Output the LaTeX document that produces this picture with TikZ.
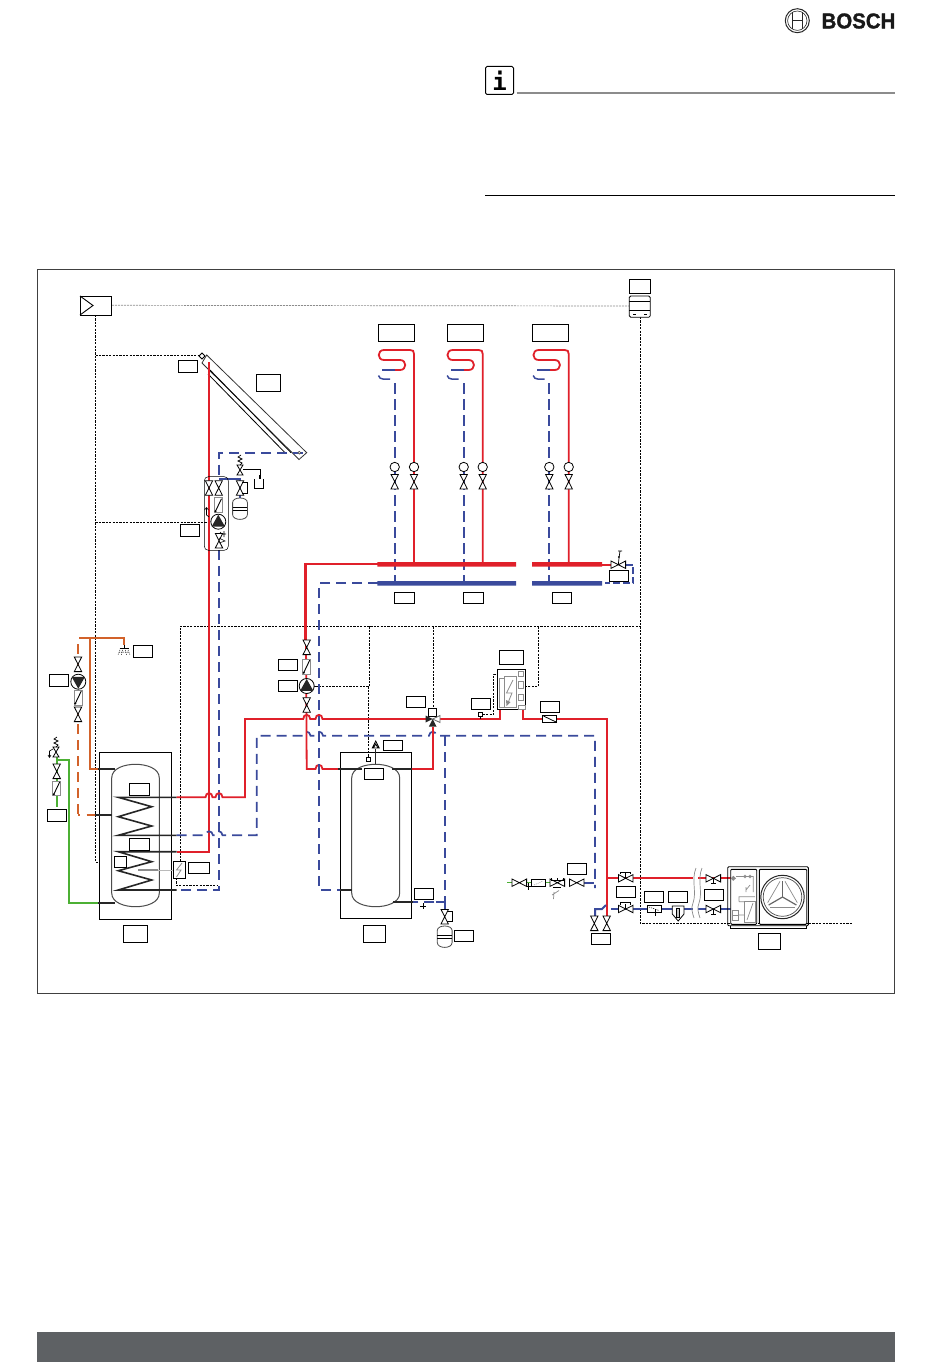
\documentclass[tikz,border=0pt]{standalone}
\usepackage{fontspec}
\setmainfont{Liberation Sans}
\newfontfamily\logof[BoldFeatures={FakeBold=1.4}]{Liberation Sans}
\newfontfamily\infof{DejaVu Sans Mono}
\definecolor{pred}{HTML}{E0202A}
\definecolor{pblue}{HTML}{3A4A9C}
\definecolor{porange}{HTML}{D2622A}
\definecolor{pgreen}{HTML}{4CB034}
\definecolor{barg}{HTML}{5E6164}
\definecolor{softg}{HTML}{8C8C8C}
\tikzset{
  hot/.style={draw=pred,line width=2.1pt},
  hotthin/.style={draw=pred,line width=1.8pt},
  cold/.style={draw=pblue,line width=1.9pt,dash pattern=on 10pt off 6pt},
  coldsolid/.style={draw=pblue,line width=2pt},
  dhw/.style={draw=porange,line width=2pt},
  dhwdash/.style={draw=porange,line width=2pt,dash pattern=on 10pt off 6pt},
  fresh/.style={draw=pgreen,line width=2pt},
  ctrl/.style={draw=black,line width=.7pt,dash pattern=on 2.2pt off 1.2pt},
  bus/.style={draw=softg,line width=.7pt,dash pattern=on 2pt off 1pt},
  stub/.style={draw=black!85,line width=1.8pt},
  sym/.style={draw=black,line width=.8pt,fill=white},
  gsym/.style={draw=softg,line width=.8pt,fill=white},
  lab/.style={draw=black,line width=.8pt,fill=white,inner sep=0pt,rectangle},
  vlv/.pic={\draw[sym] (-3.7,-7.3)--(3.7,-7.3)--(-3.7,7.3)--(3.7,7.3)--cycle;},
  pumpup/.pic={\draw[sym] (0,0) circle (7.5);
     \fill[black!85] (0,-7)--(6.6,4.8)--(-6.6,4.8)--cycle;},
  flowr/.pic={\draw[gsym] (-4,-7.4) rectangle (4,7.4);
     \draw[black,line width=.9pt] (3,-6.5)--(-3,6);
     \fill[black] (-3,6) circle (1.1);},
  vessel/.pic={\draw[sym,draw=black!70] (-7.4,-6) .. controls (-7.4,-12) and (7.4,-12) .. (7.4,-6) -- (7.4,6) .. controls (7.4,12.5) and (-7.4,12.5) .. (-7.4,6) -- cycle;
     \draw[black,line width=.7pt] (-7.4,-1)--(7.4,-1) (-7.4,1.4)--(7.4,1.4);},
  capvalve/.pic={\draw[sym] (-3.7,-7.3)--(3.7,-7.3)--(-3.7,7.3)--(3.7,7.3)--cycle;
     \draw[black,line width=.7pt] (2,-5.5)--(7.5,-5.5)--(7.5,5)--(2,5);},
  gate/.pic={\draw[sym] (-7.3,-3.7)--(-7.3,3.7)--(7.3,-3.7)--(7.3,3.7)--cycle;
     \draw[black,line width=.8pt] (0,0)--(0,-5.5) (-5,-4)--(-5,-6.3)--(5,-6.3)--(5,-4);},
  ballh/.pic={\draw[sym] (-7.3,-3.7)--(-7.3,3.7)--(7.3,-3.7)--(7.3,3.7)--cycle;
     \draw[black,line width=.8pt] (0,0)--(0,5.5) (-2.3,5.5)--(2.3,5.5);},
  hvlv/.pic={\draw[sym] (-7.3,-3.7)--(-7.3,3.7)--(7.3,-3.7)--(7.3,3.7)--cycle;},
  safety/.pic={\draw[sym] (-3,5)--(3,5)--(0,0)--cycle (0,0)--(-3,-5)--(3,-5)--cycle;
     \draw[black,line width=.7pt] (0,-5)--(2,-7)--(-2,-9)--(2,-11)--(-2,-13)--(1,-15);},
  blade/.pic={\draw[softg,line width=.7pt] (-12.3,10)--(12.3,10);
     \draw[black!60,line width=1.2pt] (0,0)--(0,-16);},
}
\newcommand{\labbox}[5]{%
  \pgfmathsetmacro{\bw}{#4-#2}\pgfmathsetmacro{\bh}{#5-#3}%
  \pgfmathsetmacro{\bx}{(#2+#4)/2}\pgfmathsetmacro{\by}{(#3+#5)/2}%
  \node[lab,minimum width=\bw pt,minimum height=\bh pt] (#1) at (\bx,\by) {};}
\def\jmp#1#2{-- (#1-3.5,#2) .. controls (#1-3.5,#2-5.5) and (#1+3.5,#2-5.5) .. (#1+3.5,#2)}
\newcommand{\heatcircuit}[2]{% x of return, x of flow
  \draw[cold,line width=1.7pt,dash pattern=on 11pt off 5pt] (#1,383)--(#1,583);
  \draw[hotthin] (#2,564)--(#2,354) .. controls (#2,351) and (#2-1,350) .. (#2-4,350) -- (#2-30,350) .. controls (#2-37,350) and (#2-37,360) .. (#2-30,360) -- (#2-14,360) .. controls (#2-7,360) and (#2-7,370) .. (#2-14,370) -- (#2-19,370);
  \draw[coldsolid,line width=1.5pt] (#2-19,370)--(#2-32,370);
  \draw[coldsolid,line width=1.5pt] (#2-35.5,375.5) .. controls (#2-35,378) and (#2-33,379) .. (#2-31,379) -- (#2-24,379);
  \draw[sym] (#1,467) circle (4.7);
  \draw[sym] (#2,467) circle (4.7);
  \pic at (#1,481.7) {vlv};
  \pic at (#2,481.7) {vlv};
}
\begin{document}
\begin{tikzpicture}[x=1pt,y=-1pt]
\useasboundingbox (0,0) rectangle (950,1370);
\fill[white] (0,0) rectangle (950,1370);

% --- page furniture
\draw[black!85,line width=1pt] (797.3,20.7) circle (12);
\draw[black!85,line width=.6pt] (797.3,20.7) circle (9.7);
\draw[black!85,line width=.9pt] (792.3,12.5)--(792.3,29) (802.3,12.5)--(802.3,29) (792.3,20.7)--(802.3,20.7);
\node[anchor=west,inner sep=0pt,font=\logof\bfseries\fontsize{21.5}{22}\selectfont,xscale=.95,text=black!90] (logo) at (821.4,21) {BOSCH};
\node[draw=black,line width=1pt,rounded corners=1.5pt,minimum size=28pt,inner sep=0pt,font=\infof\bfseries\fontsize{24}{24}\selectfont] (info) at (499.5,80.5) {i};
\draw[softg,line width=1.5pt] (516.7,93)--(895,93);
\draw[black,line width=.9pt] (485,195.3)--(895,195.3);
\fill[barg] (37,1332) rectangle (895,1362);
\draw[black!75,line width=.9pt] (37.5,269.5) rectangle (894,993.5);

% --- control wiring
\draw[bus] (112,305.3)--(629,306);
\draw[ctrl] (95.5,315)--(95.5,862)--(104.3,862);
\draw[ctrl] (95.5,355.5)--(199,355.5);
\draw[ctrl] (95.5,522.3)--(211,522.3);
\draw[ctrl] (640,317)--(640,923.3)--(851.7,923.3);
\draw[ctrl] (180.3,861.3)--(180.3,626.3)--(640,626.3);
\draw[ctrl] (176.7,878)--(176.7,885.7)--(216.7,885.7);
\draw[ctrl] (369.7,626.3)--(369.7,686.3)--(314,686.3);
\draw[ctrl] (368.7,686.3)--(368.7,757.3);
\draw[ctrl] (433.3,626.3)--(433.3,708.3);
\draw[ctrl] (538.3,626.3)--(538.3,686.3)--(525.7,686.3);
\draw[ctrl] (482.7,714.7)--(493.3,714.7)--(493.3,674.3)--(518.3,674.3);

% --- collector
\draw[black!80,line width=.8pt,fill=white] (206.7,355)--(306.7,452.7)--(299,459.5)--(202,363)--cycle;
\draw[black,line width=.8pt] (210,370)--(291,452.7) (208,374)--(285,452.7);
\draw[sym] (202,353)--(205,356)--(202,359)--(199,356)--cycle;

% --- solar circuit
\draw[cold] (303,452.7)--(219,452.7)--(219,478);
\draw[coldsolid] (219,478.7)--(240,478.7)--(240,498);
\draw[hot] (209,362)--(209,851.7)--(176.7,851.7);
\draw[cold] (219,550)--(219,890)--(176.7,890);
\draw[black!70,line width=.6pt,fill=white] (299.3,452.7) circle (1.4);
\draw[black,line width=.5pt,rounded corners=4pt] (204.3,476.7) rectangle (228.3,550.3);
\draw[black,line width=.7pt] (243,469.3)--(260,469.3)--(260,478);
\draw[black,line width=.8pt] (254,479)--(254,488)--(263,488)--(263,479);
\fill[black] (259,475) rectangle (261,479);
\pic at (209,488) {vlv};
\pic at (218.7,488) {vlv};
\pic at (218.5,505.2) {flowr};
\pic at (218.3,521.7) {pumpup};
\pic at (219,540.7) {vlv};
\draw[black,line width=.6pt] (220,532)--(222,534)--(226,534) (224,531)--(224,537) (219,538)--(225,541)--(219,543);
\draw[black,line width=.6pt] (206.5,508)--(206.5,515)--(209,517) (204.5,510)--(206.5,507.5)--(208.5,510);
\pic at (240,470) {safety};
\pic at (240,488) {capvalve};
\pic at (240,508.5) {vessel};

% --- DHW side
\draw[dhw] (79.3,638)--(124,638)--(124,645);
\draw[dhw] (90,638)--(90,769)--(98.3,769);
\draw[dhwdash] (78,644)--(78,815);
\draw[dhw] (78,815)--(80,815) (86.7,815)--(95,815);
\pic at (78,664.3) {vlv};
\begin{scope}[shift={(78.3,681.7)}]
  \draw[sym] (0,0) circle (7.5);
  \fill[black!85] (0,7)--(6.6,-4.8)--(-6.6,-4.8)--cycle;
\end{scope}
\pic at (78.3,697.5) {flowr};
\pic at (78,714.3) {vlv};
\draw[black,line width=1pt] (124,645)--(124,648) (119.5,648)--(128.5,648);
\draw[black,line width=.5pt,dash pattern=on 1pt off 1pt] (120,650)--(118,655) (122.5,650)--(121.5,655) (125.5,650)--(126.5,655) (128,650)--(130,655) (119,652)--(129,652);
\draw[fresh] (56.7,760)--(69,760)--(69,903)--(98.3,903);
\draw[fresh] (56.7,755)--(56.7,806.7);
\pic at (56.7,771.3) {vlv};
\pic at (56.8,788.3) {flowr};
\begin{scope}[shift={(56,752)},rotate=20]
 \pic {safety};
\end{scope}
\draw[black,line width=.6pt] (53,749)--(49.5,751)--(49.5,757) (48,755)--(49.5,757.5)--(51,755);

% --- storage 1
\draw[black,line width=.9pt,fill=white] (99.3,752.3) rectangle (171.3,919.3);
\draw[black!70,line width=1pt,fill=white] (111.7,778) .. controls (111.7,768) and (125,764.3) .. (135.5,764.3) .. controls (146,764.3) and (159.3,768) .. (159.3,778) -- (159.3,893) .. controls (159.3,903) and (146,906.7) .. (135.5,906.7) .. controls (125,906.7) and (111.7,903) .. (111.7,893) -- cycle;
\draw[stub] (98.3,769)--(115,769);
\draw[stub] (95,815)--(111.7,815);
\draw[stub] (98.3,903)--(115,903);
\draw[black!85,line width=1.6pt,line join=miter] (176.7,797.3)--(118.3,797.3)--(151.7,806.7)--(118.3,816.7)--(151.7,826)--(118.3,835.3)--(176.7,835.3);
\draw[black!85,line width=1.6pt,line join=miter] (176.7,851.7)--(118.3,851.7)--(151.7,861.7)--(118.3,870.7)--(151.7,880)--(118.3,890)--(176.7,890);
\draw[softg,line width=2pt] (138.3,870)--(158.3,870);
\draw[softg!60,line width=1pt] (158.3,870)--(173.3,870);
\draw[black,line width=.7pt,fill=white] (173.3,861.3) rectangle (185.7,878.3);
\draw[softg,line width=.8pt] (182,863)--(176.5,870)--(181,870)--(176.5,877);

% --- hot and return loops
\draw[hotthin] (176.7,797.3) \jmp{209}{797.3} \jmp{219}{797.3} -- (245,797.3)--(245,719) \jmp{306.7}{719} \jmp{319}{719} -- (426,719);
\draw[cold,line width=1.7pt] (176.7,835.3) -- (205,835.3) .. controls (205.5,830) and (212.5,830) .. (213,835.3) -- (215.5,835.3) .. controls (216,830) and (222,830) .. (222.5,835.3) -- (256.7,835.3)--(256.7,735.7)--(303,735.7) .. controls (303.5,730.5) and (310,730.5) .. (310.5,735.7) -- (315.5,735.7) .. controls (316,730.5) and (322.5,730.5) .. (323,735.7) -- (429,735.7) .. controls (429.5,730.5) and (436,730.5) .. (436.5,735.7) -- (595,735.7)--(595,888);
\draw[hot] (378,564.3)--(305.5,564.3)--(305.5,640);
\draw[hotthin] (306,640)--(306.7,769) \jmp{319}{769} -- (340,769);
\draw[stub] (338.3,769)--(361.7,769);
\draw[hotthin] (411.7,769)--(433.3,769)--(433.3,727);
\draw[stub] (391.7,769)--(411.7,769);
\draw[cold] (378,583.3)--(319,583.3)--(319,890)--(340,890);
\draw[cold,line width=1.7pt] (444.7,736)--(444.7,901.7)--(413,901.7);
\draw[coldsolid] (436,901.7)--(444.7,901.7)--(444.7,910);
\draw[hot] (440,719)--(500,719)--(500,710);
\draw[hot] (523.3,710)--(523.3,719)--(606.7,719)--(606.7,916);
\draw[coldsolid] (595,916)--(595,909)--(602,909)--(606,905);

% --- storage 2
\draw[black,line width=.9pt,fill=none] (340.3,752.3) rectangle (411.7,918.3);
\draw[black!70,line width=1pt,fill=white] (351.7,778) .. controls (351.7,768) and (365,764.3) .. (375.7,764.3) .. controls (386,764.3) and (399.7,768) .. (399.7,778) -- (399.7,893) .. controls (399.7,903) and (386,906.7) .. (375.7,906.7) .. controls (365,906.7) and (351.7,903) .. (351.7,893) -- cycle;
\draw[stub] (340,769)--(361.7,769);
\draw[stub] (391.7,769)--(411.7,769);
\draw[stub] (340,890)--(351.7,890);
\draw[stub] (393.3,901.7)--(413,901.7);
\draw[black,line width=.7pt] (423.3,903)--(423.3,909) (420.3,906)--(426.3,906);
\draw[black!85,line width=1.3pt] (375.7,749)--(375.7,764.3);
\draw[sym] (375.7,741)--(379.2,748)--(372.2,748)--cycle (375.7,744)--(378,748)--(373.4,748)--cycle;
\draw[sym] (366.5,757.3) rectangle (370.8,761.7);

% --- pump group, mixing valve
\pic at (306.7,647.3) {vlv};
\pic at (306.7,666.7) {flowr};
\pic at (306.7,686) {pumpup};
\pic at (306.7,705) {vlv};
\pic at (444.7,916.7) {capvalve};
\pic at (444.7,936.5) {vessel};
\draw[black,fill=white,line width=.8pt] (428.3,708.3) rectangle (436.3,716.3);
\fill[black!85] (432.7,719)--(425.5,715.5)--(425.5,722.5)--cycle;
\draw[sym,draw=black!60] (432.7,719)--(440,715.5)--(440,722.5)--cycle;
\fill[black!85] (432.7,719)--(436.5,726.5)--(428.9,726.5)--cycle;

% --- backup heater
\draw[sym] (497.3,669.3) rectangle (525.7,709.3);
\draw[gsym] (499.3,678.3) rectangle (504.3,707.3);
\draw[gsym] (504.3,676.7) rectangle (516.7,707.3);
\draw[softg,line width=.8pt] (513,680)--(506.5,693)--(512,693)--(507.5,704);
\fill[softg] (506,700)--(510.5,702)--(506.5,706)--cycle;
\draw[gsym] (518.3,671.7) rectangle (523.3,676);
\draw[gsym] (518.3,681.7) rectangle (523.3,688.3);
\draw[gsym] (518.3,694) rectangle (523.3,700.7);
\draw[gsym] (518.3,705) rectangle (525.7,709.3);
\draw[sym] (478.3,712.3) rectangle (482.7,716.7);
\draw[black,line width=.6pt] (480.5,716.7)--(480.5,719);
\draw[black,line width=.8pt,fill=white] (542.3,715.3) rectangle (556.7,722.7);
\draw[black,line width=.8pt] (543.5,716)--(556,722);
\fill[black] (556,722) circle (1);

% --- heating circuits
\heatcircuit{394.7}{414}
\heatcircuit{463.7}{482.7}
\heatcircuit{549.3}{568.7}
\fill[pred] (377.3,562) rectangle (516,566.7) (532,562) rectangle (602,566.7);
\fill[pblue] (377.3,581) rectangle (516,585.7) (532,581) rectangle (602,585.7);
\draw[hotthin] (602,564.7)--(612,564.7);
\draw[cold,dash pattern=on 7pt off 3pt] (625.7,564.7)--(633.3,564.7)--(633.3,583.3)--(605,583.3);
\pic at (618.3,564.7) {hvlv};
\draw[black,line width=.7pt] (618.3,564.7)--(619,558)--(620,551) (618,551)--(622,551);
\fill[black] (618.8,557) circle (1);

% --- controller
\draw[black,line width=.8pt,rounded corners=1.5pt,fill=white] (629.3,296) rectangle (650.3,317.3);
\draw[black,line width=.7pt] (629.3,301.7)--(650.3,301.7) (629.3,310.7)--(650.3,310.7);
\draw[black,line width=.7pt] (633,314.5)--(635.5,314.5) (644,314.5)--(646.5,314.5);

% --- sensor box
\draw[black,line width=.9pt,fill=white] (80,296) rectangle (111.7,315);
\draw[black,line width=.9pt] (80,296)--(93,305.5)--(80,315);

% --- heat pump connection
\draw[fresh,line width=1pt] (507.3,882.7)--(512,882.7);
\draw[fresh,line width=1pt] (526,882.7)--(532,882.7) (545.7,882.7)--(550,882.7);
\draw[coldsolid] (584,882.7)--(594.3,882.7);
\pic at (519.3,882.7) {hvlv};
\draw[black,line width=.7pt,fill=white] (531.7,879.3) rectangle (545.7,886.7);
\draw[softg,line width=.5pt,dash pattern=on 1pt off 1pt] (534,885)--(543,881);
\draw[black,line width=.6pt] (528.3,883)--(528.3,890) (525.5,886.7)--(531,886.7);
\pic at (557.3,882.7) {hvlv};
\draw[black,line width=.7pt] (551,878)--(551,880) -- (563.5,880) -- (563.5,878) (557.3,878)--(557.3,880) (553,887)--(561,887);
\draw[softg,line width=.7pt] (554,892)--(553.5,899) (552,895)--(559,890.5);
\pic at (576.7,882.7) {hvlv};
\pic at (594.3,923.3) {vlv};
\pic at (606.7,923.3) {vlv};

\draw[hot] (606.7,878.3)--(693.3,878.3);
\draw[hot] (698,878.3)--(733,878.3);
\draw[coldsolid] (611,909)--(693.3,909);
\draw[coldsolid] (698,909)--(732,909);
\pic at (625.7,878.3) {gate};
\pic at (625.7,909) {gate};
\pic at (713.3,878.3) {ballh};
\pic at (713.3,909) {ballh};
\draw[black,line width=.7pt,fill=white] (647.3,905.3) rectangle (661.7,912.7);
\draw[black,line width=.5pt,dash pattern=on 1.2pt off 1pt] (649,907)--(659,910.5);
\draw[black,line width=.6pt] (655.5,909)--(655.5,916);
\draw[sym] (672.3,906)--(684,906)--(684,914)--(678.2,921)--(672.3,914)--cycle;
\draw[black,fill=softg!50,line width=.6pt] (676.5,908) rectangle (679.5,917);
\draw[softg,line width=.7pt] (696,868) .. controls (691,880) and (697,892) .. (693,903) .. controls (691,908) and (692,912) .. (694,918);
\draw[softg,line width=.7pt] (702,868) .. controls (697,880) and (703,892) .. (699,903) .. controls (697,908) and (698,912) .. (700,918);

% --- outdoor unit
\draw[black,line width=.9pt,rounded corners=1pt] (727.7,866.7) rectangle (808.3,925.7);
\draw[black,line width=.9pt] (730,925.7)--(730,928.3)--(806.7,928.3)--(806.7,925.7);
\draw[black,line width=.9pt,rounded corners=1pt,fill=white] (730.7,869.3) rectangle (756.7,924.3);
\draw[black,line width=.9pt,rounded corners=1pt,fill=white] (759.3,869.3) rectangle (806.7,924.3);
\draw[black!85,line width=1pt] (782.5,897) circle (21.7);
\draw[black!70,line width=.7pt] (782.5,897) circle (19.3);
\pic at (782.5,897) {blade};
\pic[rotate=120] at (782.5,897) {blade};
\pic[rotate=240] at (782.5,897) {blade};
\fill[softg] (733.3,875.8)--(736,878.3)--(733.3,880.8)--(730.8,878.3)--cycle;
\draw[softg,line width=.7pt] (736,876.5)--(753.3,876.5)--(753.3,892) (746,887)--(746,892) (750,885)--(746,890) (739,901.7)--(739,896.7)--(755,896.7) (739,901.7)--(744,901.7) (747,920)--(753,903) (738.3,915)--(744,915);
\draw[softg,line width=.7pt] (744,901.7) rectangle (755,922.3);
\draw[softg,line width=.7pt] (732.3,910) rectangle (738.3,920) (732.3,915)--(738.3,915);
\draw[softg,line width=.6pt] (745,876.5) circle (1.5) (750,876.5) circle (1.5);

% --- empty label plates
\labbox{l01}{178.3}{360.3}{197.7}{372.3}
\labbox{l02}{256.3}{374.3}{280.3}{391.3}
\labbox{l03}{180.3}{524.3}{199.7}{536.7}
\labbox{l04}{133.3}{645.3}{152.3}{657.7}
\labbox{l05}{49.3}{674.3}{68.3}{686.3}
\labbox{l06}{47.3}{809.3}{66.7}{821.7}
\labbox{l07}{129.3}{783.3}{149.3}{795.7}
\labbox{l08}{129.3}{838.3}{149.3}{850.7}
\labbox{l09}{114.3}{856.3}{126.7}{867.7}
\labbox{l10}{188.3}{862.3}{209.7}{873.7}
\labbox{l11}{123.3}{925.3}{147.3}{942.3}
\labbox{l12}{278.3}{659.3}{297.7}{670.7}
\labbox{l13}{278.3}{680.3}{297.7}{691.7}
\labbox{l14}{383.3}{740.3}{402.7}{750.7}
\labbox{l15}{364.3}{768.3}{383.7}{779.7}
\labbox{l16}{363.3}{925.3}{385.7}{942.7}
\labbox{l17}{414.3}{888.3}{433.7}{899.7}
\labbox{l18}{454.3}{930.3}{473.7}{941.7}
\labbox{l19}{406.3}{696.3}{425.7}{707.7}
\labbox{l20}{499.3}{650.3}{523.3}{664.3}
\labbox{l21}{471.3}{698.3}{490.7}{709.7}
\labbox{l22}{540.3}{701.3}{559.7}{712.7}
\labbox{l23}{629.3}{279.3}{650.3}{293.7}
\labbox{l24}{378.3}{324.3}{414.3}{341.3}
\labbox{l25}{447.3}{324.3}{483.3}{341.3}
\labbox{l26}{532.3}{324.3}{568.3}{341.3}
\labbox{l27}{394.3}{592.3}{414.7}{603.7}
\labbox{l28}{463.3}{592.3}{483.7}{603.7}
\labbox{l29}{552.3}{592.3}{571.7}{603.7}
\labbox{l30}{609.3}{570}{628.7}{581.7}
\labbox{l31}{616.3}{886.3}{635.7}{897.7}
\labbox{l32}{644.3}{891.3}{663.7}{902.7}
\labbox{l33}{668.3}{891.3}{687.7}{902.7}
\labbox{l34}{704.3}{889}{723.7}{900.3}
\labbox{l35}{591.3}{933.3}{610.7}{944.7}
\labbox{l36}{758.3}{933.3}{780.3}{949.3}
\labbox{l37}{567.3}{863.3}{586.7}{874.3}
\end{tikzpicture}
\end{document}
